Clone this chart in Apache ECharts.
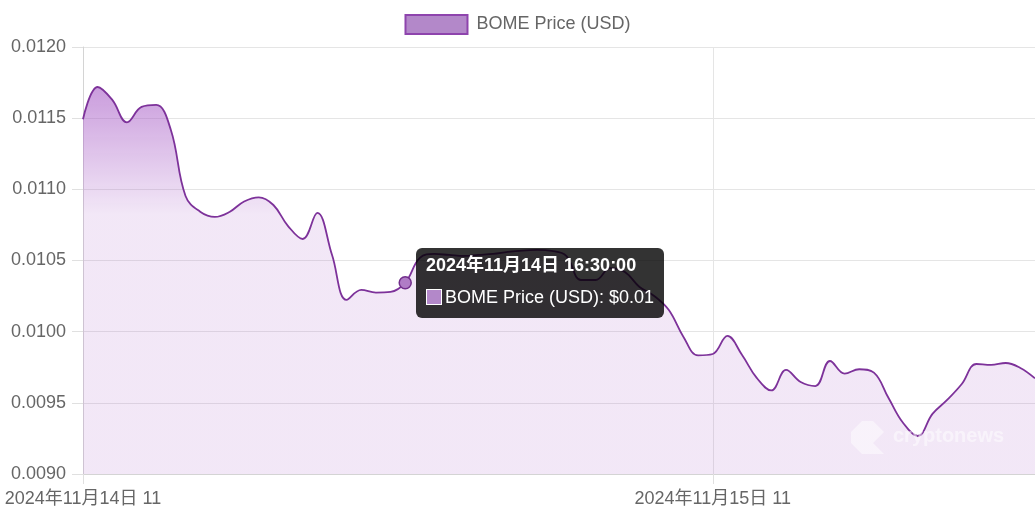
<!DOCTYPE html>
<html>
<head>
<meta charset="utf-8">
<script src="https://cdn.jsdelivr.net/npm/echarts@6/dist/echarts.min.js"></script>
<style>
html,body{margin:0;padding:0;background:#fff;}
#chart{width:1035px;height:517px;}
</style>
</head>
<body>
<div id="chart"></div>
<script>
// ---- data ----
const categories = [
  "2024-11-14 11:00","2024-11-14 11:15","2024-11-14 11:30","2024-11-14 11:45","2024-11-14 12:00",
  "2024-11-14 12:15","2024-11-14 12:30","2024-11-14 12:45","2024-11-14 13:00","2024-11-14 13:15",
  "2024-11-14 13:30","2024-11-14 13:45","2024-11-14 14:00","2024-11-14 14:15","2024-11-14 14:30",
  "2024-11-14 14:45","2024-11-14 15:00","2024-11-14 15:15","2024-11-14 15:30","2024-11-14 15:45",
  "2024-11-14 16:00","2024-11-14 16:15","2024-11-14 16:30","2024-11-14 17:25","2024-11-14 18:20",
  "2024-11-14 19:15","2024-11-14 20:10","2024-11-14 21:05","2024-11-14 22:00","2024-11-14 22:55",
  "2024-11-14 23:50","2024-11-15 00:45","2024-11-15 01:40","2024-11-15 02:35","2024-11-15 03:30",
  "2024-11-15 04:25","2024-11-15 05:20","2024-11-15 06:15","2024-11-15 07:10","2024-11-15 08:05",
  "2024-11-15 09:00","2024-11-15 09:55","2024-11-15 10:50","2024-11-15 11:45","2024-11-15 12:40",
  "2024-11-15 13:35","2024-11-15 14:30","2024-11-15 15:25","2024-11-15 16:20","2024-11-15 17:15",
  "2024-11-15 18:10","2024-11-15 19:05","2024-11-15 20:00","2024-11-15 20:55","2024-11-15 21:50",
  "2024-11-15 22:45","2024-11-15 23:40","2024-11-16 00:35","2024-11-16 01:30","2024-11-16 02:25",
  "2024-11-16 03:20","2024-11-16 04:15","2024-11-16 05:10","2024-11-16 06:05","2024-11-16 07:00",
  "2024-11-16 07:55"
];
const prices = [
  0.011492,0.011719,0.011628,0.011471,0.011579,0.011593,0.011417,0.010953,0.010843,0.010806,
  0.010841,0.010915,0.010944,0.010890,0.010742,0.010651,0.010834,0.010540,0.010223,0.010293,
  0.010275,0.010279,0.010344,0.010518,0.010546,0.010539,0.010532,0.010539,0.010546,0.010560,
  0.010570,0.010574,0.010567,0.010532,0.010363,0.010363,0.010447,0.010419,0.010314,0.010251,
  0.010152,0.009963,0.009833,0.009843,0.009970,0.009836,0.009675,0.009587,0.009731,0.009646,
  0.009618,0.009794,0.009705,0.009736,0.009712,0.009534,0.009358,0.009267,0.009422,0.009520,
  0.009632,0.009773,0.009766,0.009780,0.009745,0.009672
];
const xTickIndex = [0, 43];
const seriesName = "BOME Price (USD)";
const tooltipIndex = 22;

// ---- helpers ----
function cnDate(s, withTime) {
  const [d, t] = s.split(" ");
  const [y, m, dd] = d.split("-");
  const head = y + "年" + m + "月" + dd + "日 ";
  return withTime ? head + t + ":00" : head + t.split(":")[0];
}
const FONT = "'Liberation Sans', Arial, 'Noto Sans CJK SC', sans-serif";

const chart = echarts.init(document.getElementById("chart"), null, {renderer: "canvas"});
const option = {
  animation: false,
  textStyle: {fontFamily: FONT},
  legend: {
    top: 14, left: "center", padding: 0,
    itemWidth: 62, itemHeight: 19, icon: "rect",
    textStyle: {color: "#666", fontSize: 18, fontFamily: FONT, padding: [0, 0, 0, 4]},
    data: [{name: seriesName, itemStyle: {color: "#b388c9", borderColor: "#8e44ad", borderWidth: 2}}]
  },
  grid: {left: 83, right: 0, top: 47, bottom: 43, containLabel: false},
  xAxis: {
    type: "category",
    boundaryGap: false,
    data: categories,
    axisLine: {lineStyle: {color: "#d4d4d4", width: 1}},
    axisTick: {show: true, length: 10, interval: (i) => xTickIndex.includes(i), lineStyle: {color: "#e0e0e0"}},
    axisLabel: {
      interval: (i) => xTickIndex.includes(i),
      color: "#666", fontSize: 18, fontFamily: FONT, margin: 16,
      formatter: (v) => cnDate(v, false)
    },
    splitLine: {show: true, interval: (i) => xTickIndex.includes(i) && i !== 0, lineStyle: {color: "#e5e5e5"}}
  },
  yAxis: {
    type: "value",
    min: 0.009, max: 0.012, interval: 0.0005,
    axisLine: {show: true, lineStyle: {color: "#d4d4d4"}},
    axisTick: {show: true, length: 11, lineStyle: {color: "#e0e0e0"}},
    axisLabel: {color: "#666", fontSize: 18, fontFamily: FONT, margin: 17, formatter: (v) => v.toFixed(4)},
    splitLine: {show: true, lineStyle: {color: "#e5e5e5"}}
  },
  tooltip: {
    trigger: "axis",
    alwaysShowContent: true,
    axisPointer: {type: "line", lineStyle: {opacity: 0}},
    backgroundColor: "rgba(0,0,0,0.8)",
    borderWidth: 0,
    padding: [6, 10, 10, 10],
    extraCssText: "border-radius:6px;box-shadow:none;",
    position: function (point, params, dom, rect, size) {
      const idx = params && params[0] ? params[0].dataIndex : tooltipIndex;
      const p = chart.convertToPixel({seriesIndex: 0}, [idx, prices[idx]]);
      return [p[0] + 11, p[1] - size.contentSize[1] / 2];
    },
    formatter: function (params) {
      const p = params[0];
      return '<div style="font:bold 18px ' + FONT.replace(/"/g, "") + ';line-height:22px;color:#fff;margin-bottom:10px">' +
        cnDate(p.name, true) + '</div>' +
        '<div style="font:18px ' + FONT.replace(/"/g, "") + ';line-height:22px;color:#fff;display:flex;align-items:center">' +
        '<span style="display:inline-block;width:14px;height:14px;background:#b388c9;border:1.5px solid #fff;margin-right:3px"></span>' +
        p.seriesName + ': $' + p.value.toFixed(2) + '</div>';
    }
  },
  graphic: [
    {type: "polygon", shape: {points: [[851, 432], [862, 421], [873, 421], [884, 432], [873, 443], [884, 454], [862, 454], [851, 443]]},
      style: {fill: "rgba(255,255,255,0.45)"}, z: 10},
    {type: "text", left: 893, top: 426,
      style: {text: "cryptonews", fill: "rgba(255,255,255,0.5)", font: "bold 20px 'Liberation Sans', Arial, sans-serif"}, z: 10}
  ],
  series: [{
    name: seriesName,
    type: "line",
    data: prices,
    smooth: 0.4,
    showSymbol: false,
    symbol: "circle",
    symbolSize: 12,
    lineStyle: {color: "#722e8c", width: 1.8},
    itemStyle: {color: "#b07cc6", borderColor: "#722e8c", borderWidth: 1.5},
    emphasis: {scale: false, itemStyle: {color: "#b07cc6", borderColor: "#722e8c", borderWidth: 1.5}},
    areaStyle: {
      opacity: 1,
      color: new echarts.graphic.LinearGradient(0, 0, 0, 1, [
        {offset: 0, color: "rgba(155,89,182,0.62)"},
        {offset: 0.33, color: "rgba(155,89,182,0.15)"},
        {offset: 1, color: "rgba(155,89,182,0.15)"}
      ])
    }
  }]
};
chart.setOption(option);
chart.dispatchAction({type: "showTip", seriesIndex: 0, dataIndex: tooltipIndex});
</script>
</body>
</html>
